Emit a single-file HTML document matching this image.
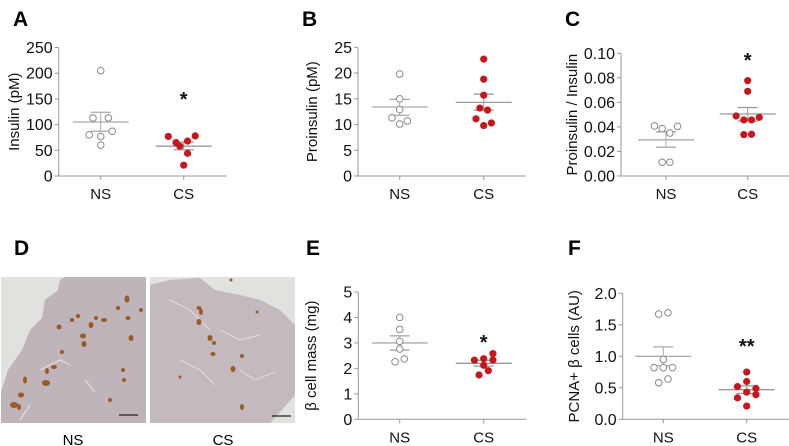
<!DOCTYPE html>
<html><head><meta charset="utf-8">
<style>
html,body{margin:0;padding:0;background:#fff;}
svg{display:block;font-family:"Liberation Sans",Arial,sans-serif;}
</style></head>
<body>
<svg id="fig" width="789" height="446" viewBox="0 0 789 446" xmlns="http://www.w3.org/2000/svg">
  <g font-weight="bold" font-size="21" fill="#000">
    <text x="13" y="26">A</text>
    <text x="302" y="26">B</text>
    <text x="565" y="26">C</text>
    <text x="14" y="255">D</text>
    <text x="306" y="255">E</text>
    <text x="568" y="255">F</text>
  </g>
  <g>
    <g>
      <rect x="1" y="277" width="145" height="146" fill="#dfe2dd"/>
      <path d="M1,423 L1,392 L8,370 L22,350 L30,330 L42,318 L45,300 L58,290 L60,280 L65,277 L146,277 L146,423 Z" fill="#bfb4b9"/>
      <path d="M40,370 L60,360 L70,365 M85,380 L95,392 M20,420 L30,405" stroke="#dad8d6" stroke-width="1.5" fill="none"/>
      <g fill="#9a5a22">
        <ellipse cx="127" cy="299" rx="2.5" ry="3.5"/><ellipse cx="128" cy="318" rx="2.5" ry="2"/><ellipse cx="104" cy="320" rx="3" ry="2"/>
        <ellipse cx="91" cy="325" rx="2.5" ry="3"/><ellipse cx="131" cy="338" rx="2.5" ry="3"/><ellipse cx="83" cy="336" rx="3" ry="2.5"/>
        <ellipse cx="59" cy="327" rx="2.5" ry="2.5"/><ellipse cx="72" cy="320" rx="2" ry="2"/><ellipse cx="84" cy="344" rx="2.5" ry="3"/>
        <ellipse cx="62" cy="352" rx="2" ry="2"/><ellipse cx="54" cy="367" rx="3" ry="2"/><ellipse cx="47" cy="371" rx="2" ry="3"/>
        <ellipse cx="46" cy="383" rx="4" ry="3"/><ellipse cx="25" cy="380" rx="2" ry="3.5"/><ellipse cx="21" cy="395" rx="3" ry="2.5"/>
        <ellipse cx="14" cy="405" rx="4" ry="3"/><ellipse cx="19" cy="407" rx="2" ry="3"/><ellipse cx="123" cy="370" rx="2" ry="2"/>
        <ellipse cx="124" cy="380" rx="2" ry="2"/><ellipse cx="110" cy="400" rx="2" ry="2"/><ellipse cx="118" cy="308" rx="2" ry="2"/>
        <ellipse cx="141" cy="310" rx="2" ry="2"/><ellipse cx="96" cy="318" rx="2" ry="2"/><ellipse cx="78" cy="316" rx="2" ry="2"/>
      </g>
      <line x1="119" y1="415" x2="138" y2="415" stroke="#222" stroke-width="1.2"/>
    </g>
    <g>
      <rect x="150" y="277" width="145" height="146" fill="#dfe2dd"/>
      <path d="M150,423 L150,285 L170,280 L200,278 L215,290 L240,295 L260,300 L280,310 L295,325 L295,395 L280,412 L270,423 Z" fill="#c3b9be"/>
      <path d="M170,300 L190,310 L210,330 M220,330 L240,340 L260,335 M180,360 L200,370 L215,385 M240,370 L255,380 L275,372" stroke="#dddbd9" stroke-width="1.2" fill="none"/>
      <g fill="#9a5a22">
        <ellipse cx="199" cy="308" rx="2.5" ry="2"/><ellipse cx="201" cy="312" rx="2" ry="3"/><ellipse cx="199" cy="322" rx="2.5" ry="3"/>
        <ellipse cx="210" cy="338" rx="2.5" ry="3"/><ellipse cx="214" cy="343" rx="2" ry="2"/><ellipse cx="213" cy="354" rx="2.5" ry="2"/>
        <ellipse cx="242" cy="356" rx="2" ry="2"/><ellipse cx="233" cy="369" rx="2.5" ry="3"/><ellipse cx="242" cy="407" rx="2" ry="3"/>
        <ellipse cx="231" cy="280" rx="1.5" ry="1.5"/><ellipse cx="257" cy="312" rx="1.5" ry="1.5"/><ellipse cx="180" cy="377" rx="1.5" ry="1.5"/>
      </g>
      <line x1="272" y1="416" x2="291" y2="416" stroke="#222" stroke-width="1.2"/>
    </g>
    <text x="73" y="445" text-anchor="middle" font-size="15">NS</text>
    <text x="223" y="445" text-anchor="middle" font-size="15">CS</text>
  </g>
</svg>
<script>
// Panel A - Insulin
const aNS = [205, 113, 113, 80, 77, 87, 60];
const aNSoff = [0, -1, 1, -1.5, 0, 1.5, 0];
const aCS = [77, 65, 58, 68, 78, 44, 21];
const aCSoff = [-2, -1, -0.5, 0.5, 1.5, 0.5, 0];
const aStats = [105, 124, 87, 58, 66, 51];
const aTicks = ["0", "50", "100", "150", "200", "250"];
// Panel B - Proinsulin
const bNS = [19.8, 15.0, 12.9, 11.3, 10.1, 10.7];
const bNSoff = [0, 0, 0, -1, 0, 1];
const bCS = [22.7, 18.8, 15.7, 13.2, 12.8, 11.1, 9.8, 10.3];
const bCSoff = [0, 0, 0, -0.5, 0.5, -1, 0, 1];
const bStats = [13.4, 14.9, 11.8, 14.3, 15.9, 12.8];
const bTicks = ["0", "5", "10", "15", "20", "25"];
// Panel C - Proinsulin / Insulin
const cNS = [0.0408, 0.0386, 0.0350, 0.0405, 0.0112, 0.0112];
const cNSoff = [-1.5, -0.5, 0.5, 1.5, -0.5, 0.5];
const cCS = [0.0777, 0.069, 0.0489, 0.0457, 0.0457, 0.0478, 0.0337, 0.0340];
const cCSoff = [0, 0, -1.5, -0.5, 0.5, 1.5, -0.5, 0.5];
const cStats = [0.0295, 0.036, 0.0235, 0.0505, 0.0558, 0.0448];
const cTicks = ["0.00", "0.02", "0.04", "0.06", "0.08", "0.10"];
// Panel E - beta cell mass
const eNS = [4.0, 3.53, 3.06, 2.76, 2.26, 2.37];
const eNSoff = [0, 0, 0, 0, -0.6, 0.6];
const eCS = [2.32, 2.38, 2.58, 2.33, 2.12, 1.74, 1.91];
const eCSoff = [-1.2, 0, 1.2, 1.2, 0, -0.6, 0.6];
const eStats = [3.0, 3.28, 2.72, 2.2, 2.32, 2.09];
const eTicks = ["0", "1", "2", "3", "4", "5"];
// Panel F - PCNA+ beta cells
const fNS = [1.67, 1.69, 0.95, 0.82, 0.82, 0.82, 0.58, 0.64];
const fNSoff = [-0.6, 0.6, 0, -1.2, 0, 1.2, -0.6, 0.6];
const fCS = [0.75, 0.60, 0.52, 0.49, 0.43, 0.39, 0.34, 0.21];
const fCSoff = [0, 0, -1.2, 1.2, 0, 1.2, -1.2, 0];
const fStats = [1.0, 1.15, 0.85, 0.47, 0.53, 0.41];
const fTicks = ["0.0", "0.5", "1.0", "1.5", "2.0"];

const NS_ = "http://www.w3.org/2000/svg";
const fig = document.getElementById('fig');
function mk(tag, attrs, parent) {
  const e = document.createElementNS(NS_, tag);
  for (const k in attrs) e.setAttribute(k, attrs[k]);
  parent.appendChild(e);
  return e;
}
function panel(id, cfg) {
  const g = mk('g', {}, fig);
  
  
  const ymax = cfg.ymax;
  const y = v => cfg.y0 - (v / ymax) * (cfg.y0 - cfg.yTop);
  const xNS = cfg.ax + cfg.dNS, xCS = cfg.ax + cfg.dCS;
  const ya = mk('line', {x1: cfg.ax, y1: cfg.yTop, x2: cfg.ax, y2: cfg.y0, stroke: '#999', 'stroke-width': 1}, g);
  
  
  const xa = mk('line', {x1: cfg.ax, y1: cfg.y0, x2: cfg.ax + 168, y2: cfg.y0, stroke: '#999', 'stroke-width': 1}, g);
  
  
  cfg.ticks.forEach((t, i) => {
    const v = i * ymax / (cfg.ticks.length - 1);
    const yy = y(v);
    mk('line', {x1: cfg.ax - 4, y1: yy, x2: cfg.ax, y2: yy, stroke: '#999'}, g);
    const tx = mk('text', {x: cfg.ax - 6, y: yy + 5.5, 'text-anchor': 'end', 'font-size': 16, fill: '#111'}, g);
    
    
    tx.textContent = t;
  });
  [[xNS, 'NS'], [xCS, 'CS']].forEach(([xx, lab]) => {
    mk('line', {x1: xx, y1: cfg.y0, x2: xx, y2: cfg.y0 + 4, stroke: '#999'}, g);
    const tx = mk('text', {x: xx, y: cfg.y0 + 23, 'text-anchor': 'middle', 'font-size': 15, fill: '#111'}, g);
    
    
    tx.textContent = lab;
  });
  const yc = (cfg.yTop + cfg.y0) / 2;
  const tt = mk('text', {x: cfg.tx, y: yc, 'text-anchor': 'middle', 'font-size': 15, fill: '#111', transform: 'rotate(-90 ' + cfg.tx + ' ' + yc + ')'}, g);
  
  
  tt.textContent = cfg.title;
  const s = cfg.stats;
  [[xNS, s[0], s[1], s[2], '#aaa'], [xCS, s[3], s[4], s[5], '#999']].forEach(([xx, m, hi, lo, col], k) => {
    const ml = mk('line', {x1: xx - 28, y1: y(m), x2: xx + 28, y2: y(m), stroke: col, 'stroke-width': 1.3}, g);
    
    
    mk('line', {x1: xx, y1: y(hi), x2: xx, y2: y(lo), stroke: col, 'stroke-width': 1}, g);
    mk('line', {x1: xx - 10, y1: y(hi), x2: xx + 10, y2: y(hi), stroke: col, 'stroke-width': 1.3}, g);
    mk('line', {x1: xx - 10, y1: y(lo), x2: xx + 10, y2: y(lo), stroke: col, 'stroke-width': 1.3}, g);
  });
  cfg.ns.forEach((v, i) => {
    const c = mk('circle', {cx: xNS + cfg.nsOff[i] * 7.7, cy: y(v), r: 3.3, fill: '#fff', stroke: '#8a8a8a', 'stroke-width': 1}, g);
    
    
  });
  cfg.cs.forEach((v, i) => {
    const c = mk('circle', {cx: xCS + cfg.csOff[i] * 7.7, cy: y(v), r: 3.6, fill: '#c8161d'}, g);
    
    
  });
  if (cfg.star) {
    const st = mk('text', {x: xCS, y: cfg.starY, 'text-anchor': 'middle', 'font-size': 20, 'font-weight': 'bold', fill: '#111'}, g);
    
    
    st.textContent = cfg.star;
  }
}
panel('a', {ax: 58.7, yTop: 47.5, y0: 176, ymax: 250, dNS: 42, dCS: 125, tx: 19, title: 'Insulin (pM)', ticks: aTicks, ns: aNS, nsOff: aNSoff, cs: aCS, csOff: aCSoff, stats: aStats, star: '*', starY: 106});
panel('b', {ax: 358, yTop: 47.3, y0: 176, ymax: 25, dNS: 41.7, dCS: 125.7, tx: 317, title: 'Proinsulin (pM)', ticks: bTicks, ns: bNS, nsOff: bNSoff, cs: bCS, csOff: bCSoff, stats: bStats});
panel('c', {ax: 621, yTop: 53.3, y0: 176, ymax: 0.10, dNS: 45, dCS: 126.7, tx: 577, title: 'Proinsulin / Insulin', ticks: cTicks, ns: cNS, nsOff: cNSoff, cs: cCS, csOff: cCSoff, stats: cStats, star: '*', starY: 67});
panel('e', {ax: 358.3, yTop: 292, y0: 419.3, ymax: 5, dNS: 41.4, dCS: 125.4, tx: 316, title: 'β cell mass (mg)', ticks: eTicks, ns: eNS, nsOff: eNSoff, cs: eCS, csOff: eCSoff, stats: eStats, star: '*', starY: 349});
panel('f', {ax: 622.7, yTop: 293.3, y0: 419.3, ymax: 2.0, dNS: 40.6, dCS: 124, tx: 579, title: 'PCNA+ β cells (AU)', ticks: fTicks, ns: fNS, nsOff: fNSoff, cs: fCS, csOff: fCSoff, stats: fStats, star: '**', starY: 353});
</script>
</body></html>
